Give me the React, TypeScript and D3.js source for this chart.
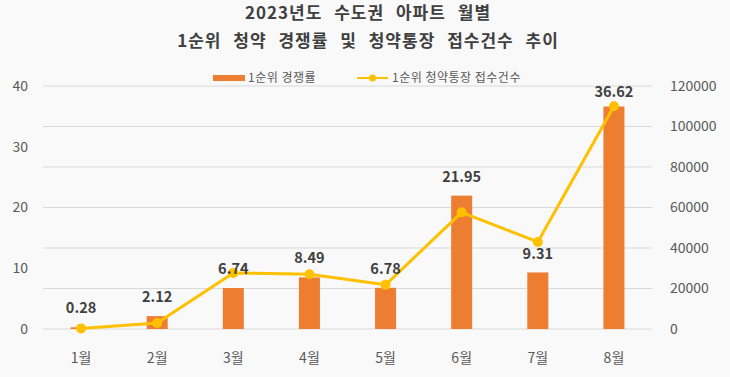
import React from "react";
import * as d3 from "d3";

const months = ["1월", "2월", "3월", "4월", "5월", "6월", "7월", "8월"];
const rates = [0.28, 2.12, 6.74, 8.49, 6.78, 21.95, 9.31, 36.62];
const applications = [300, 3000, 27700, 27000, 21800, 57600, 43000, 110000];
const leftTicks = [0, 10, 20, 30, 40];
const rightTicks = [0, 20000, 40000, 60000, 80000, 100000, 120000];
const titleLines = ["2023년도 수도권 아파트 월별", "1순위 청약 경쟁률 및 청약통장 접수건수 추이"];
const legendLabels = ["1순위 경쟁률", "1순위 청약통장 접수건수"];

const W = 730, H = 377;
const FONT = "'Noto Sans CJK KR', 'Noto Sans', sans-serif";
const BAR = "#ED7D31";
const LINE = "#FFC000";

export default function App() {
  const x = d3.scaleBand<string>().domain(months).range([43, 652]).paddingInner(0).paddingOuter(0);
  const yL = d3.scaleLinear().domain([0, 40]).range([329, 86]);
  const yR = d3.scaleLinear().domain([0, 120000]).range([329, 86]);
  const bw = 21;
  const cx = (m: string) => (x(m) as number) + x.bandwidth() / 2;
  const line = d3.line<number>()
    .x((_, i) => cx(months[i]))
    .y((d) => yR(d));

  return (
    <svg width={W} height={H} style={{ position: "absolute", left: 0, top: 0, background: "#f9f9f9" }} fontFamily={FONT}>
      <rect x={0} y={0} width={W} height={H} fill="#f9f9f9" />
      {titleLines.map((t, i) => (
        <text key={i} x={368} y={19 + i * 28} textAnchor="middle" fontSize={17} fontWeight="bold" fill="#404040" letterSpacing={1} wordSpacing={7}>{t}</text>
      ))}
      {/* gridlines */}
      {rightTicks.map((t) => (
        <line key={t} x1={43} x2={652} y1={yR(t)} y2={yR(t)} stroke="#d9d9d9" strokeWidth={1} />
      ))}
      {/* left axis labels */}
      {leftTicks.map((t) => (
        <text key={t} x={28} y={yL(t)} dy="0.35em" textAnchor="end" fontSize={14} fill="#595959">{t}</text>
      ))}
      {/* right axis labels */}
      {rightTicks.map((t) => (
        <text key={t} x={670} y={yR(t)} dy="0.35em" textAnchor="start" fontSize={14} fill="#595959">{t}</text>
      ))}
      {/* x labels */}
      {months.map((m) => (
        <text key={m} x={cx(m)} y={358} dy="0.35em" textAnchor="middle" fontSize={14} fill="#595959">{m}</text>
      ))}
      {/* bars */}
      {rates.map((v, i) => (
        <rect key={i} x={cx(months[i]) - bw / 2} y={yL(v)} width={bw} height={yL(0) - yL(v)} fill={BAR} />
      ))}
      {/* line */}
      <path d={line(applications) || ""} fill="none" stroke={LINE} strokeWidth={3} strokeLinejoin="round" />
      {applications.map((v, i) => (
        <circle key={i} cx={cx(months[i])} cy={yR(v)} r={5} fill={LINE} />
      ))}
      {/* data labels */}
      {rates.map((v, i) => (
        <text key={i} x={cx(months[i])} y={Math.max(yL(v) - 19, 92)} dy="0.35em" textAnchor="middle" fontSize={14.5} fontWeight="bold" fill="#404040">{v.toFixed(2)}</text>
      ))}
      {/* legend */}
      <rect x={213} y={75} width={32} height={6} fill={BAR} />
      <text x={248} y={78} dy="0.35em" fontSize={12} letterSpacing={0.5} fill="#595959">{legendLabels[0]}</text>
      <line x1={357} x2={388} y1={78} y2={78} stroke={LINE} strokeWidth={2} />
      <circle cx={372.5} cy={78} r={3.5} fill={LINE} />
      <text x={392} y={78} dy="0.35em" fontSize={12} letterSpacing={0.5} fill="#595959">{legendLabels[1]}</text>
    </svg>
  );
}
